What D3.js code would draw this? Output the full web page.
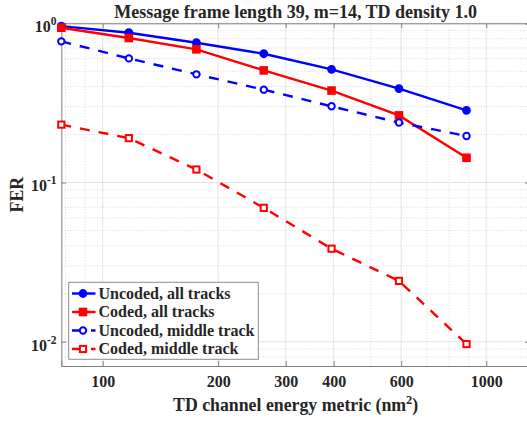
<!DOCTYPE html>
<html>
<head>
<meta charset="utf-8">
<script src="https://cdn.jsdelivr.net/npm/d3@7"></script>
<style>
  html, body { margin: 0; padding: 0; background: #fff; }
  svg { display: block; overflow: hidden; }
  text { font-family: "Liberation Serif", "Times New Roman", serif; font-weight: bold; fill: #262626; }
</style>
</head>
<body>
<svg id="chart" width="527" height="424"></svg>
<script>
// Channel energy metric (nm^2) at which FER was measured
const energy = [78, 117, 175.5, 263, 395, 592, 888];
// Frame error rates per configuration
const uncodedAll = [0.96, 0.873, 0.755, 0.644, 0.514, 0.389, 0.284];
const codedAll = [0.938, 0.808, 0.686, 0.506, 0.378, 0.264, 0.143];
const uncodedMid = [0.770, 0.602, 0.478, 0.383, 0.301, 0.238, 0.196];
const codedMid = [0.231, 0.190, 0.1207, 0.0693, 0.0384, 0.0241, 0.00967];

const seriesNames = ["Uncoded, all tracks", "Coded, all tracks", "Uncoded, middle track", "Coded, middle track"];
const xTicks = [100, 200, 300, 400, 600, 1000];
const yTicks = [1, 0.1, 0.01];
const yTickExp = ["0", "-1", "-2"];

const series = [
  { name: seriesNames[0], values: uncodedAll, color: "#0000ff", dash: null, marker: "circle", filled: true },
  { name: seriesNames[1], values: codedAll, color: "#ff0000", dash: null, marker: "square", filled: true },
  { name: seriesNames[2], values: uncodedMid, color: "#0000ff", dash: "10,9", marker: "circle", filled: false },
  { name: seriesNames[3], values: codedMid, color: "#ff0000", dash: "10,9", marker: "square", filled: false }
];

const svg = d3.select("#chart");
const L = 61.3, R = 530, T = 23.3, B = 366;

const x = d3.scaleLog().domain([78, 1300]).range([L, R]);
const y = d3.scaleLog().domain([0.00704, 1]).range([B, T]);

const gridColor = "#e3e3e3";
const minorColor = "#d6d6d6";
const axisColor = "#808080";

// Minor grid (dotted)
const xMinor = [80, 90, 500, 700, 800, 900];
const yMinor = [];
[0.001, 0.01, 0.1].forEach(d => { for (let k = 2; k <= 9; k++) yMinor.push(d * k); });
const gridG = svg.append("g");
gridG.selectAll("line.xm").data(xMinor).join("line")
  .attr("x1", d => x(d)).attr("x2", d => x(d)).attr("y1", T).attr("y2", B)
  .attr("stroke", minorColor).attr("stroke-width", 1).attr("stroke-dasharray", "1,2");
gridG.selectAll("line.ym").data(yMinor.filter(v => v > y.domain()[0] && v < 1)).join("line")
  .attr("x1", L).attr("x2", R).attr("y1", d => y(d)).attr("y2", d => y(d))
  .attr("stroke", minorColor).attr("stroke-width", 1).attr("stroke-dasharray", "1,2");
// Major grid (solid)
gridG.selectAll("line.xg").data(xTicks).join("line")
  .attr("x1", d => x(d)).attr("x2", d => x(d)).attr("y1", T).attr("y2", B)
  .attr("stroke", gridColor).attr("stroke-width", 1);
gridG.selectAll("line.yg").data(yTicks).join("line")
  .attr("x1", L).attr("x2", R).attr("y1", d => y(d)).attr("y2", d => y(d))
  .attr("stroke", gridColor).attr("stroke-width", 1);

// Axes box with ticks on all sides
const ax = svg.append("g");
const xAxisB = d3.axisBottom(x).tickValues(xTicks).tickSize(-5).tickFormat(d3.format("d")).tickPadding(10);
const gB = ax.append("g").attr("transform", `translate(0,${B})`).call(xAxisB);
const gT = ax.append("g").attr("transform", `translate(0,${T})`).call(d3.axisTop(x).tickValues(xTicks).tickSize(-5).tickFormat(""));
const gL = ax.append("g").attr("transform", `translate(${L},0)`).call(d3.axisLeft(y).tickValues(yTicks).tickSize(-5).tickFormat(""));
const gR = ax.append("g").attr("transform", `translate(${R},0)`).call(d3.axisRight(y).tickValues(yTicks).tickSize(-5).tickFormat(""));
[gB, gT, gL, gR].forEach(g => {
  g.select(".domain").attr("stroke", axisColor).attr("stroke-width", 1);
  g.selectAll(".tick line").attr("stroke", axisColor);
});
gB.selectAll(".tick text")
  .style("font-family", '"Liberation Serif", serif').style("font-weight", "bold")
  .style("font-size", "16px").attr("fill", "#262626");

// Y tick labels as powers of ten
const yl = ax.append("g");
yTicks.forEach((v, i) => {
  const t = yl.append("text").attr("text-anchor", "end")
    .attr("x", 56.5).attr("y", y(v) + 8.8).style("font-size", "16px");
  t.append("tspan").text("10");
  t.append("tspan").attr("dy", -7).style("font-size", "11.5px").text(yTickExp[i]);
});

// Data lines and markers
const line = d3.line().x(d => x(d[0])).y(d => y(d[1]));
function drawMarker(g, cx, cy, s) {
  if (s.marker === "circle") {
    g.append("circle").attr("cx", cx).attr("cy", cy).attr("r", s.filled ? 3.4 : 3.2)
      .attr("fill", s.filled ? s.color : "#fff").attr("stroke", s.color).attr("stroke-width", 2);
  } else {
    const h = s.filled ? 3.3 : 3.1;
    g.append("rect").attr("x", cx - h).attr("y", cy - h).attr("width", 2 * h).attr("height", 2 * h)
      .attr("fill", s.filled ? s.color : "#fff").attr("stroke", s.color).attr("stroke-width", 2);
  }
}
const dataG = svg.append("g");
series.forEach(s => {
  const pts = energy.map((e, i) => [e, s.values[i]]);
  dataG.append("path").attr("d", line(pts)).attr("fill", "none")
    .attr("stroke", s.color).attr("stroke-width", 2.4)
    .attr("stroke-dasharray", s.dash);
  pts.forEach(p => drawMarker(dataG, x(p[0]), y(p[1]), s));
});

// Title and axis labels
svg.append("text").attr("x", (L + R) / 2).attr("y", 17.5).attr("text-anchor", "middle")
  .style("font-size", "18px").text("Message frame length 39, m=14, TD density 1.0");
const xl = svg.append("text").attr("x", (L + R) / 2).attr("y", 411).attr("text-anchor", "middle")
  .style("font-size", "17.8px");
xl.append("tspan").text("TD channel energy metric (nm");
xl.append("tspan").attr("dy", -7.5).style("font-size", "12.5px").text("2");
xl.append("tspan").attr("dy", 7.5).text(")");
svg.append("text").attr("transform", `translate(23,${(T + B) / 2}) rotate(-90)`)
  .attr("text-anchor", "middle").style("font-size", "17.8px").text("FER");

// Legend
const lg = svg.append("g");
lg.append("rect").attr("x", 68.7).attr("y", 282.3).attr("width", 189.6).attr("height", 77)
  .attr("fill", "#fff").attr("stroke", "#8c8c8c").attr("stroke-width", 1);
series.forEach((s, i) => {
  const cy = 293.5 + i * 18.5;
  lg.append("line").attr("x1", 72).attr("x2", 95.5).attr("y1", cy).attr("y2", cy)
    .attr("stroke", s.color).attr("stroke-width", 2.4).attr("stroke-dasharray", s.dash);
  drawMarker(lg, 83, cy, s);
  lg.append("text").attr("x", 98.5).attr("y", cy + 5.3).style("font-size", "16px").text(s.name);
});
</script>
</body>
</html>
